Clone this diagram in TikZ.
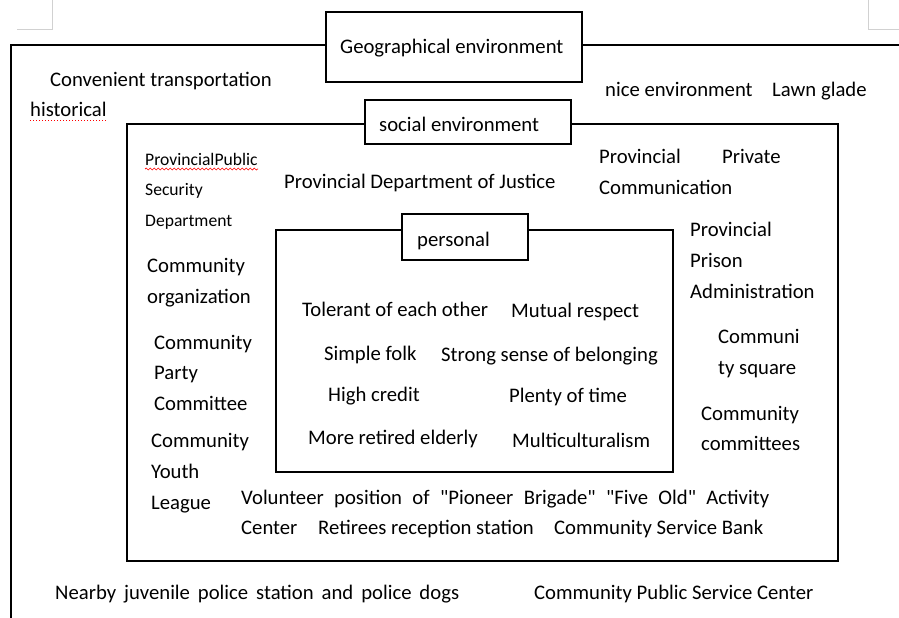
\documentclass[tikz,border=0pt]{standalone}
\usepackage{fontspec}
\setmainfont{Carlito}
\newfontfamily\qfont{Carlito}[Ligatures=TeXOff]
\usetikzlibrary{decorations.pathmorphing}
\newcommand{\sq}{{\qfont\symbol{34}}}
\begin{document}
\begin{tikzpicture}[x=1pt,y=-1pt,
  lbl/.style={anchor=base west, inner sep=0pt, font=\fontsize{20.7}{24}\selectfont, text=black},
  sml/.style={anchor=base west, inner sep=0pt, font=\fontsize{17.6}{21}\selectfont, text=black},
  frame/.style={draw=black, line width=2.2pt},
  tag/.style={draw=black, line width=2.2pt, fill=white, inner sep=0pt},
  cornermark/.style={draw=black!18, line width=0.8pt}]
\useasboundingbox (0,0) rectangle (899,618);
% page corner marks
\draw[cornermark] (17,29) -- (52,29) -- (52,0);
\draw[cornermark] (899,29) -- (868,29) -- (868,0);
% frames
\draw[frame] (11,618) -- (11,45) -- (899,45);
\draw[frame] (127,124) rectangle (838,561);
\draw[frame] (276,230) rectangle (673,472);
% tag boxes
\node[tag, minimum width=256pt, minimum height=70pt] (geo) at (454,47) {};
\node[tag, minimum width=206pt, minimum height=44pt] (soc) at (468,122) {};
\node[tag, minimum width=126pt, minimum height=46pt] (per) at (465,237) {};
\node[lbl] (tgeo) at (340,54) {Geographical environment};
\node[lbl] (tsoc) at (379,131) {social environment};
\node[lbl] (tper) at (417,246) {personal};
% geographical level
\node[lbl] (t1) at (50,86) {Convenient transportation};
\node[lbl] (t2) at (30,116) {historical};
\node[lbl] (t3) at (605,96) {nice environment};
\node[lbl] (t4) at (772,96) {Lawn glade};
\draw[red, dotted, line width=1pt] (30,120) -- (107,120);
% social level
\node[sml] (s1) at (145,165) {ProvincialPublic};
\node[sml] (s2) at (145,195) {Security};
\node[sml] (s3) at (145,226) {Department};
\draw[red, line width=0.7pt, decorate, decoration={snake, amplitude=1pt, segment length=4pt}] (145,169) -- (258,169);
\node[lbl] (s4) at (284,188) {Provincial Department of Justice};
\node[lbl] (s5) at (599,163) {Provincial};
\node[lbl] (s6) at (722,163) {Private};
\node[lbl] (s7) at (599,194) {Communication};
\node[lbl] (s8) at (690,236) {Provincial};
\node[lbl] (s9) at (690,267) {Prison};
\node[lbl] (s10) at (690,298) {Administration};
\node[lbl] (s11) at (718,343) {Communi};
\node[lbl] (s12) at (718,374) {ty square};
\node[lbl] (s13) at (701,420) {Community};
\node[lbl] (s14) at (701,450) {committees};
\node[lbl] (s15) at (147,272) {Community};
\node[lbl] (s16) at (147,303) {organization};
\node[lbl] (s17) at (154,349) {Community};
\node[lbl] (s18) at (154,379) {Party};
\node[lbl] (s19) at (154,410) {Committee};
\node[lbl] (s20) at (151,447) {Community};
\node[lbl] (s21) at (151,478) {Youth};
\node[lbl] (s22) at (151,509) {League};
\node[lbl] (s23) at (241,504) {\makebox[528pt][s]{Volunteer position of \sq Pioneer Brigade\sq{} \sq Five Old\sq{} Activity}};
\node[lbl] (s24) at (241,534) {Center};
\node[lbl] (s25) at (318,534) {Retirees reception station};
\node[lbl] (s26) at (554,534) {Community Service Bank};
% personal level
\node[lbl] (p1) at (302,316) {Tolerant of each other};
\node[lbl] (p2) at (511,317) {Mutual respect};
\node[lbl] (p3) at (324,360) {Simple folk};
\node[lbl] (p4) at (441,361) {Strong sense of belonging};
\node[lbl] (p5) at (328,401) {High credit};
\node[lbl] (p6) at (509,402) {Plenty of time};
\node[lbl] (p7) at (308,444) {More retired elderly};
\node[lbl] (p8) at (512,447) {Multiculturalism};
% bottom
\node[lbl] (b1) at (55,599) {\makebox[404pt][s]{Nearby juvenile police station and police dogs}};
\node[lbl] (b2) at (534,599) {Community Public Service Center};
\end{tikzpicture}
\end{document}
